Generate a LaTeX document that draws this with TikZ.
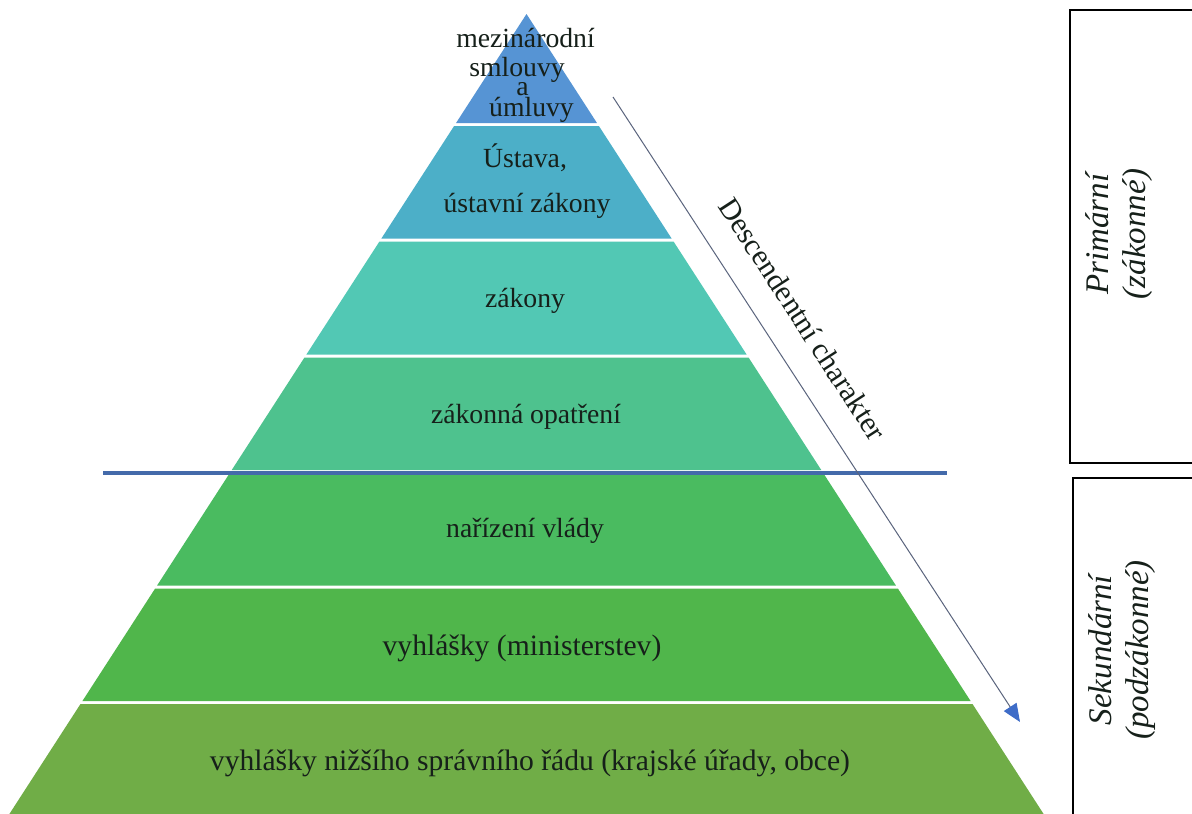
\documentclass[tikz,border=0pt]{standalone}
\usepackage{fontspec}
\setmainfont{Liberation Serif}
\usetikzlibrary{arrows.meta}
\definecolor{cA}{RGB}{86,148,212}
\definecolor{cB}{RGB}{76,175,200}
\definecolor{cC}{RGB}{82,200,180}
\definecolor{cD}{RGB}{78,194,142}
\definecolor{cE}{RGB}{74,187,96}
\definecolor{cF}{RGB}{80,182,75}
\definecolor{cG}{RGB}{112,173,71}
\definecolor{sepblue}{RGB}{68,106,170}
\definecolor{arrgray}{RGB}{90,100,125}
\definecolor{arrblue}{RGB}{62,108,200}
\definecolor{txt}{RGB}{22,32,26}
\begin{document}
\begin{tikzpicture}[x=1pt,y=1pt,
  lbl/.style={text=txt, inner sep=0pt, anchor=base, font=\fontsize{27.7}{28}\selectfont},
  widelbl/.style={lbl, font=\fontsize{29.6}{30}\selectfont},
  sidelbl/.style={text=txt, inner sep=0pt, align=center, rotate=90, font=\fontsize{33}{37}\selectfont\itshape},
  boxline/.style={draw=black, line width=1.5pt},
  sepline/.style={draw=sepblue, line width=4pt},
  arrowline/.style={draw=arrgray, line width=1pt, -{Triangle[length=18pt,width=15pt,color=arrblue]}},
  desclbl/.style={text=txt, inner sep=0pt, rotate=-57, font=\fontsize{30}{30}\selectfont}]
\useasboundingbox (0,0) rectangle (1192,-814);
\clip (0,0) rectangle (1192,-814);
\fill[white] (0,0) rectangle (1192,-814);
% pyramid layers
\foreach \t/\b/\c in {14/123/cA, 126/238.5/cB, 241.5/354.5/cC, 357.5/470/cD, 473/585.5/cE, 588.5/701/cF, 704/822/cG} {
  \pgfmathsetmacro\wt{0.6464*(\t-14)}
  \pgfmathsetmacro\wb{0.6464*(\b-14)}
  \fill[\c] (526.5-\wt,-\t) -- (526.5+\wt,-\t) -- (526.5+\wb,-\b) -- (526.5-\wb,-\b) -- cycle;
}
% separator
\coordinate (sepL) at (103,-473);
\coordinate (sepR) at (947,-473);
\draw[sepline] (sepL) -- (sepR);
% layer labels
\node[lbl] (t1) at (525.5,-47) {mezinárodní};
\node[lbl] (t2) at (517,-76) {smlouvy};
\node[lbl] (t3) at (522.5,-95) {a};
\node[lbl] (t4) at (531.5,-116) {úmluvy};
\node[lbl] (u1) at (525,-167) {Ústava,};
\node[lbl] (u2) at (527,-212) {ústavní zákony};
\node[lbl] (z1) at (525,-307) {zákony};
\node[lbl] (z2) at (526,-423) {zákonná opatření};
\node[lbl] (n1) at (525,-537) {nařízení vlády};
\node[widelbl] (v1) at (522,-655) {vyhlášky (ministerstev)};
\node[widelbl] (v2) at (530,-770) {vyhlášky nižšího správního řádu (krajské úřady, obce)};
% descending arrow
\coordinate (arrS) at (613,-97);
\coordinate (arrE) at (1020,-722);
\draw[arrowline] (arrS) -- (arrE);
\node[desclbl] (desc) at (803,-319) {Descendentní charakter};
% side boxes
\draw[boxline] (1070,-10) rectangle (1210,-463);
\draw[boxline] (1073,-478) rectangle (1210,-830);
\node[sidelbl] (prim) at (1119,-234) {Primární\\(zákonné)};
\node[sidelbl] (sek) at (1122,-650) {Sekundární\\(podzákonné)};
\end{tikzpicture}
\end{document}
